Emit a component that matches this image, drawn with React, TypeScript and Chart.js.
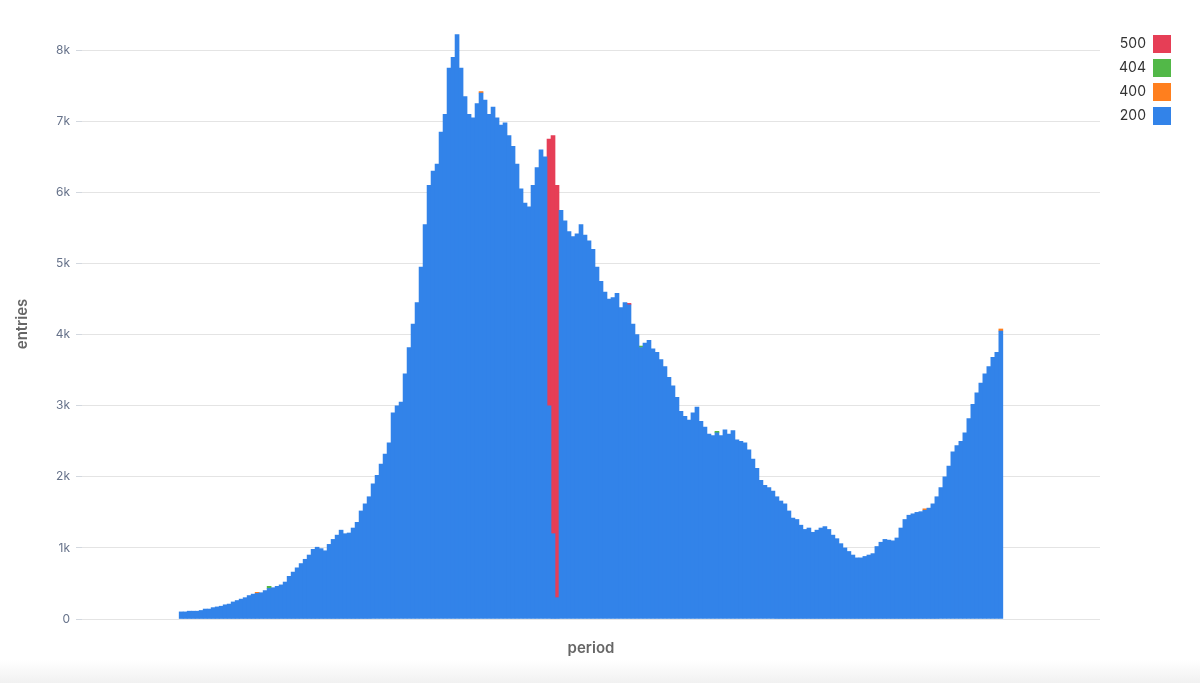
import React, { useEffect, useRef } from 'react';
import { Chart, registerables } from 'chart.js';

Chart.register(...registerables);

const FONT = 'Inter, "Noto Sans", "DejaVu Sans", sans-serif';

// Status codes shown in the legend (bottom of stack first)
const statusLabels = ['200', '400', '404', '500'];

// Entries with status 200, one value per period
const entries200 = [
  100, 100, 110, 110, 110, 120, 140, 140, 160, 170,
  180, 200, 210, 240, 260, 280, 300, 330, 350, 360,
  370, 400, 430, 440, 460, 480, 520, 600, 660, 720,
  780, 840, 900, 980, 1010, 990, 960, 1050, 1120, 1180,
  1250, 1200, 1210, 1280, 1360, 1520, 1620, 1720, 1900, 2020,
  2180, 2320, 2480, 2900, 3000, 3050, 3450, 3820, 4150, 4450,
  4950, 5550, 6100, 6300, 6400, 6850, 7100, 7750, 7900, 8220,
  7750, 7350, 7100, 7050, 7250, 7400, 7300, 7100, 7200, 7050,
  6950, 6980, 6800, 6650, 6400, 6050, 5850, 5800, 6100, 6350,
  6600, 6500, 3000, 1200, 300, 5750, 5600, 5450, 5380, 5420,
  5550, 5400, 5320, 5200, 4950, 4750, 4600, 4500, 4520, 4580,
  4380, 4450, 4420, 4150, 4000, 3820, 3880, 3920, 3800, 3750,
  3650, 3550, 3400, 3280, 3120, 2920, 2850, 2800, 2900, 2980,
  2780, 2700, 2600, 2580, 2620, 2580, 2660, 2600, 2650, 2520,
  2500, 2480, 2380, 2250, 2120, 1950, 1880, 1850, 1800, 1720,
  1660, 1620, 1520, 1420, 1400, 1320, 1260, 1280, 1220, 1250,
  1280, 1300, 1260, 1180, 1130, 1060, 1000, 950, 900, 860,
  860, 880, 900, 920, 1020, 1080, 1120, 1110, 1100, 1140,
  1280, 1400, 1460, 1480, 1500, 1510, 1530, 1560, 1620, 1720,
  1850, 2000, 2150, 2350, 2440, 2500, 2620, 2820, 3020, 3180,
  3320, 3450, 3550, 3680, 3750, 4050,
];

// Sparse series: [period index, entries]
const entries400: [number, number][] = [[19, 15], [75, 20], [186, 20], [205, 30]];
const entries404: [number, number][] = [[22, 30], [115, 20], [134, 20]];
const entries500: [number, number][] = [[92, 3750], [93, 5600], [94, 5800], [112, 20]];

// Y-axis tick values
const yTicks = [0, 1000, 2000, 3000, 4000, 5000, 6000, 7000, 8000];

const COLORS = {
  '200': '#3283E9',
  '400': '#FF7F1E',
  '404': '#52B848',
  '500': '#E63E56',
};

const legendWidthPlugin = {
  id: 'legendWidth',
  afterInit(chart: any) {
    const lg = chart.legend;
    if (!lg) return;
    const fit = lg.fit.bind(lg);
    lg.fit = () => {
      fit();
      lg.width = Math.max(lg.width, 77);
    };
  },
};

export default function App() {
  const ref = useRef<HTMLCanvasElement>(null);

  useEffect(() => {
    if (!ref.current) return;
    const series: Record<string, { x: number; y: number }[]> = {
      '200': entries200.map((y, i) => ({ x: i, y })),
      '400': entries400.map(([x, y]) => ({ x, y })),
      '404': entries404.map(([x, y]) => ({ x, y })),
      '500': entries500.map(([x, y]) => ({ x, y })),
    };
    const chart = new Chart(ref.current, {
      type: 'bar',
      data: {
        datasets: statusLabels.map((s) => ({
          label: s,
          data: series[s] as any,
          backgroundColor: (COLORS as any)[s],
          borderWidth: 0,
          barPercentage: 1,
          categoryPercentage: 1,
        })),
      },
      options: {
        responsive: false,
        animation: false,
        layout: { padding: { top: 29, right: 23, bottom: 22, left: 0 } },
        plugins: {
          legend: {
            position: 'right',
            align: 'start',
            reverse: true,
            rtl: true,
            labels: {
              boxWidth: 18,
              boxHeight: 18,
              padding: 6,
              color: '#333333',
              font: { family: FONT, size: 14 },
            },
          },
          tooltip: { enabled: false },
        },
        scales: {
          x: {
            type: 'linear',
            stacked: true,
            min: -24.8,
            max: entries200.length - 1 + 24.8,
            offset: false,
            grid: { display: false, drawTicks: false },
            border: { display: false },
            ticks: { display: false },
            title: {
              display: true,
              text: 'period',
              color: '#666666',
              font: { family: FONT, size: 15, weight: '600' as any },
              padding: { top: 20, bottom: 4 },
            },
          },
          y: {
            stacked: true,
            min: 0,
            max: 8300,
            afterFit: (s: any) => {
              s.width = 82;
            },
            afterBuildTicks: (s: any) => {
              s.ticks = yTicks.map((v) => ({ value: v }));
            },
            border: { display: false },
            grid: { color: '#E4E4E4', tickColor: '#D3D8DF', tickLength: 6 },
            ticks: {
              padding: 6,
              color: '#66728A',
              font: { family: FONT, size: 12 },
              callback: (v: any) => (Number(v) === 0 ? '0' : Number(v) / 1000 + 'k'),
            },
            title: {
              display: true,
              text: 'entries',
              color: '#666666',
              font: { family: FONT, size: 15, weight: '600' as any },
              padding: { top: 13, bottom: 4 },
            },
          },
        },
      },
      plugins: [legendWidthPlugin],
    });
    return () => chart.destroy();
  }, []);

  return (
    <div
      style={{
        position: 'absolute',
        left: 0,
        top: 0,
        width: 1200,
        height: 683,
        background: 'linear-gradient(to bottom, #ffffff 0px, #ffffff 660px, #f1f1f1 683px)',
      }}
    >
      <canvas ref={ref} width={1200} height={683} style={{ display: 'block' }} />
    </div>
  );
}
